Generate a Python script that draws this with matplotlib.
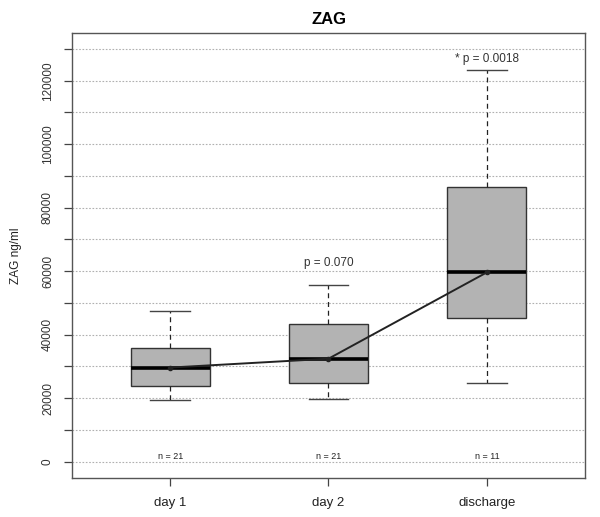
import matplotlib
matplotlib.use("Agg")
import matplotlib.pyplot as plt

plt.rcParams['font.family'] = ['Liberation Sans', 'DejaVu Sans']

categories = ["day 1", "day 2", "discharge"]
whisker_low = [19450, 19770, 24700]
q1 = [23900, 24700, 45100]
median = [29600, 32400, 59600]
q3 = [35800, 43300, 86500]
whisker_high = [47300, 55500, 123300]
n_labels = ["n = 21", "n = 21", "n = 11"]
p_labels = ["", "p = 0.070", "* p = 0.0018"]
p_y = [None, 62600, 126900]
yticks = list(range(0, 130001, 10000))
ylabels = [str(v) if v % 20000 == 0 else "" for v in yticks]

fig = plt.figure(figsize=(6.0, 5.17), dpi=100)
ax = fig.add_axes([72/600, 1-478/517, (585-72)/600, (478-32.5)/517])

pos = [1, 2, 3]
stats = []
for i in range(3):
    stats.append(dict(med=median[i], q1=q1[i], q3=q3[i],
                      whislo=whisker_low[i], whishi=whisker_high[i],
                      fliers=[], label=categories[i]))

for v in yticks:
    ax.axhline(v, color='#b0b0b0', linestyle=(0, (1.5, 1.5)), linewidth=0.8, zorder=0)

ax.bxp(stats, positions=pos, widths=0.5, patch_artist=True, showfliers=False,
       boxprops=dict(facecolor='#b3b3b3', edgecolor='#333333', linewidth=1.0),
       medianprops=dict(color='black', linewidth=2.6),
       whiskerprops=dict(color='#222222', linestyle=(0, (4, 3)), linewidth=0.9),
       capprops=dict(color='#444444', linewidth=1.0),
       capwidths=0.25, zorder=2)

ax.plot(pos, median, color='#222222', linewidth=1.4, marker='o', markersize=3, zorder=3)

for i in range(3):
    ax.text(pos[i], 1600, n_labels[i], ha='center', va='center', fontsize=6.5, color='#222222')
    if p_labels[i]:
        ax.text(pos[i], p_y[i], p_labels[i], ha='center', va='center', fontsize=8.5, color='#333333')

ax.set_xlim(0.38, 3.62)
ax.set_ylim(-5200, 135200)
ax.set_xticks(pos)
ax.set_xticklabels(categories, fontsize=9.5, color='#222222')
ax.set_yticks(yticks)
ax.set_yticklabels(ylabels, rotation=90, va='center', fontsize=8.5, color='#333333')
ax.tick_params(axis='both', length=6, width=0.9, color='#444444', pad=7)
ax.tick_params(axis='x', pad=8)
for s in ax.spines.values():
    s.set_color('#555555')
    s.set_linewidth(1.0)
ax.set_ylabel("ZAG ng/ml", fontsize=8.5, color='#222222', labelpad=14)
ax.set_title("ZAG", fontsize=12, fontweight='bold', pad=6)

fig.savefig("out.png", dpi=100)
